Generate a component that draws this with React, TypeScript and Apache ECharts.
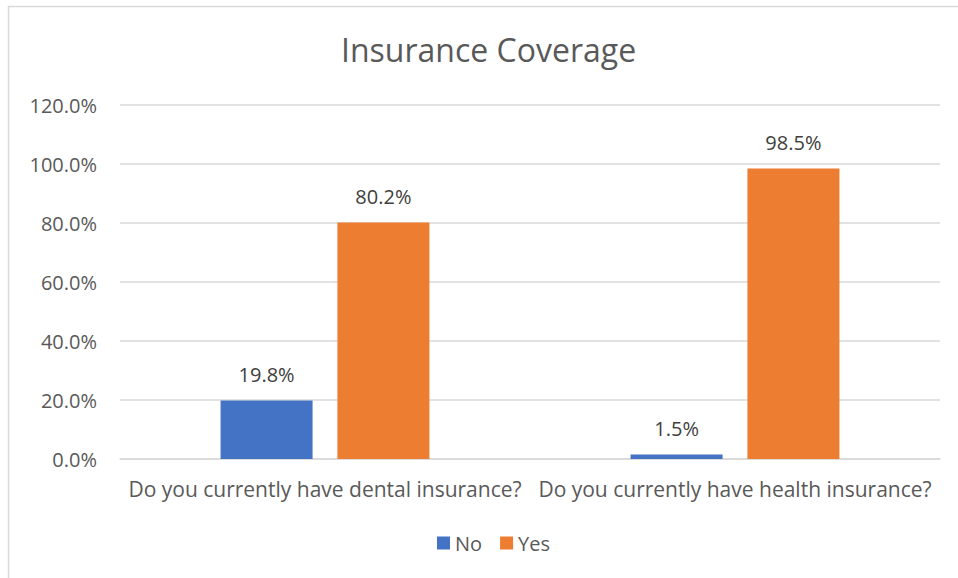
import React, { useEffect, useRef } from "react";
import * as echarts from "echarts";

const categories = [
  "Do you currently have dental insurance?",
  "Do you currently have health insurance?",
];
const noValues = [19.8, 1.5];
const yesValues = [80.2, 98.5];
const seriesNames = ["No", "Yes"];
const chartTitle = "Insurance Coverage";

const FONT = "'Open Sans', 'Noto Sans', sans-serif";

export default function App() {
  const ref = useRef<HTMLDivElement>(null);
  useEffect(() => {
    if (!ref.current) return;
    const chart = echarts.init(ref.current, undefined, { renderer: "svg" });
    const labelStyle = {
      show: true,
      position: "top" as const,
      distance: 16,
      color: "#404040",
      fontSize: 20,
      fontFamily: FONT,
      formatter: (p: any) => `${p.value.toFixed(1)}%`,
    };
    chart.setOption({
      animation: false,
      backgroundColor: "#ffffff",
      graphic: [
        {
          type: "rect",
          shape: { x: 8.5, y: 6.5, width: 1000, height: 1000 },
          style: { fill: "none", stroke: "#d9d9d9", lineWidth: 1.5 },
          silent: true,
          z: -10,
        },
      ],
      title: {
        text: chartTitle,
        left: 336,
        top: 28,
        textStyle: {
          color: "#595959",
          fontSize: 32,
          fontWeight: "normal",
          fontFamily: FONT,
        },
      },
      legend: {
        data: seriesNames,
        bottom: 20,
        left: 432,
        itemWidth: 13,
        itemHeight: 13,
        itemGap: 18,
        icon: "rect",
        textStyle: { color: "#595959", fontSize: 20, fontFamily: FONT },
      },
      grid: { left: 120, right: 18, top: 105, bottom: 119, containLabel: false },
      xAxis: {
        type: "category",
        data: categories,
        axisLine: { lineStyle: { color: "#d9d9d9", width: 1.5 } },
        axisTick: { show: false },
        axisLabel: {
          color: "#595959",
          fontSize: 21,
          fontFamily: FONT,
          margin: 19,
          interval: 0,
        },
      },
      yAxis: {
        type: "value",
        min: 0,
        max: 120,
        interval: 20,
        axisLine: { show: false },
        axisTick: { show: false },
        splitLine: { lineStyle: { color: "#d9d9d9", width: 1.5 } },
        axisLabel: {
          color: "#595959",
          fontSize: 20,
          fontFamily: FONT,
          margin: 23,
          formatter: (v: number) => `${v.toFixed(1)}%`,
        },
      },
      series: [
        {
          name: seriesNames[0],
          type: "bar",
          data: noValues,
          barWidth: 92,
          barGap: "27%",
          itemStyle: { color: "#4472C4" },
          label: labelStyle,
        },
        {
          name: seriesNames[1],
          type: "bar",
          data: yesValues,
          barWidth: 92,
          itemStyle: { color: "#ED7D31" },
          label: labelStyle,
        },
      ],
    });
    return () => chart.dispose();
  }, []);
  return (
    <div
      ref={ref}
      style={{ position: "fixed", left: 0, top: 0, width: 958, height: 578 }}
    />
  );
}
